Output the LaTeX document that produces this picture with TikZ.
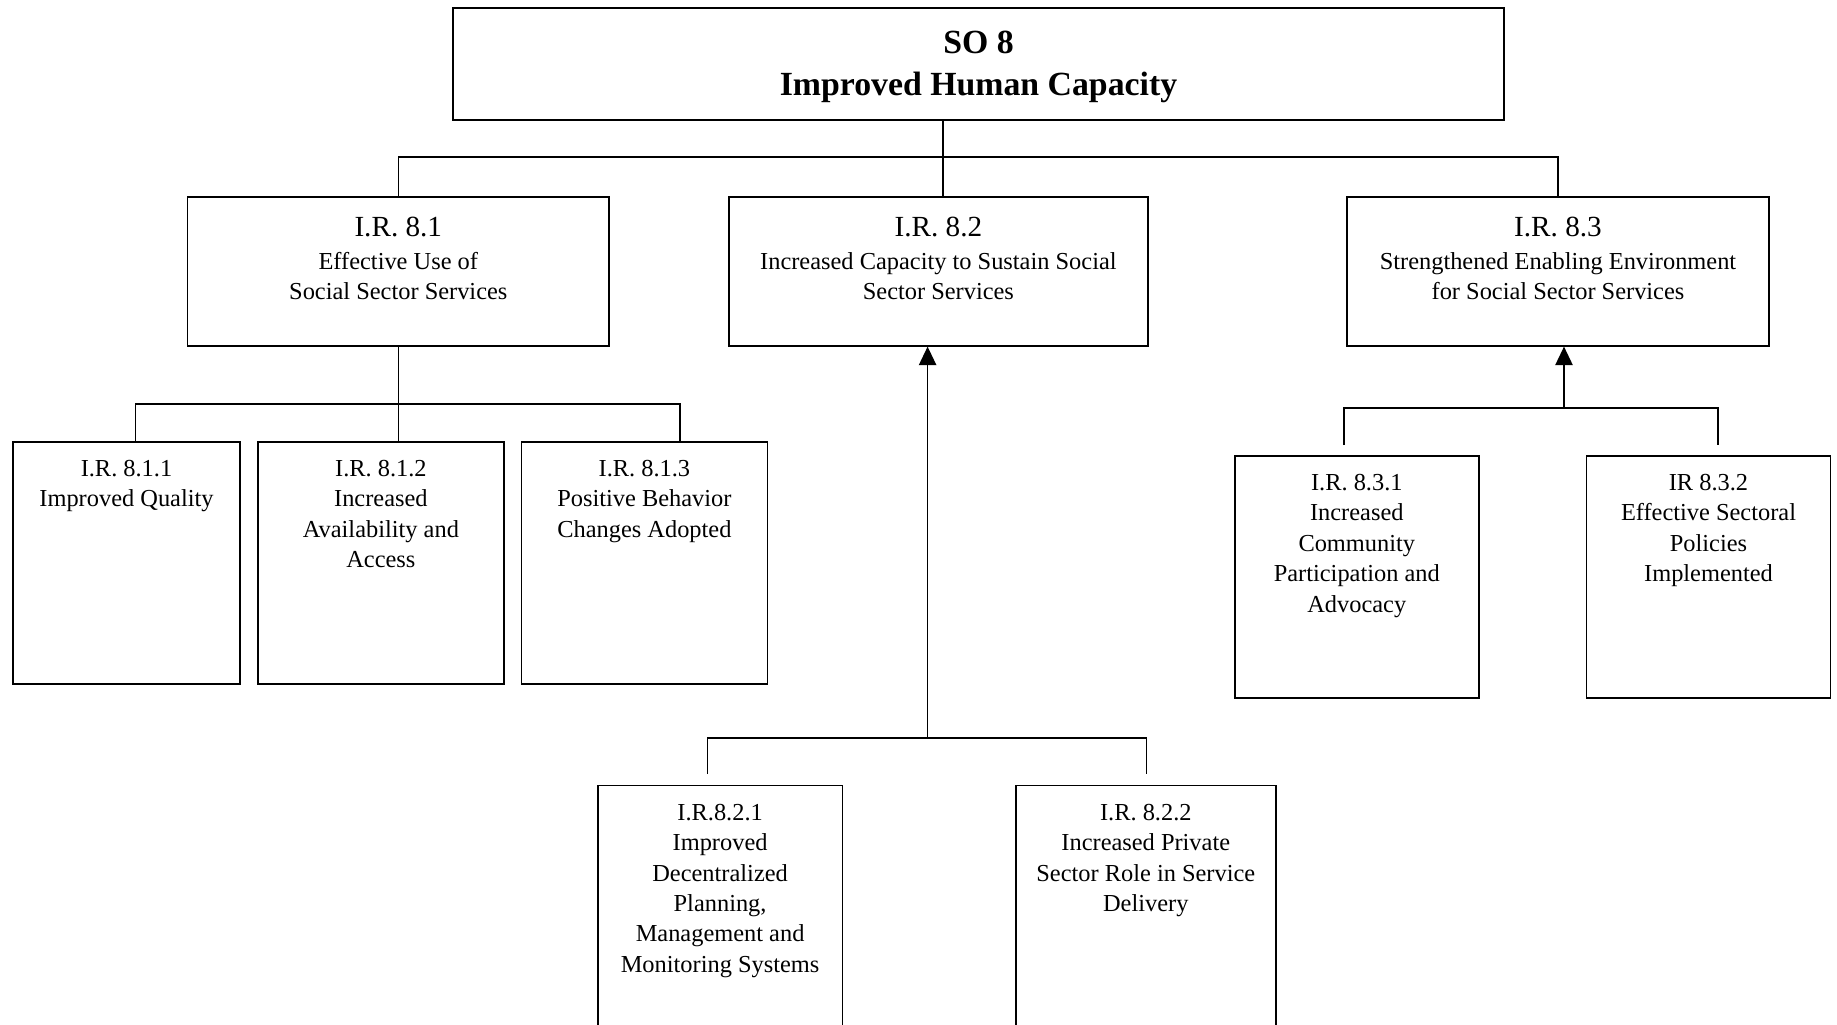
\documentclass[tikz,border=0pt]{standalone}
\usepackage{fontspec}
\setmainfont{Liberation Serif}
\usetikzlibrary{arrows.meta}

\begin{document}
\begin{tikzpicture}[x=0.5pt,y=-0.5pt,
  box/.style={draw,line width=0.9pt,inner sep=0pt},
  txt/.style={anchor=north,align=center,inner sep=0pt,yshift=-9.5pt,font=\fontsize{12.2}{15.2}\selectfont},
  link/.style={line width=0.75pt},
  up/.style={link,-{Triangle[length=9.3pt,width=8.7pt]}}]
\useasboundingbox (0,0) rectangle (1837,1024);
\clip (0,0) rectangle (1837,1024);

\node [box,minimum width=525.5pt,minimum height=56pt,
       label={[txt,yshift=-2.4pt,font=\bfseries\fontsize{16.9}{21}\selectfont]north:{SO 8\\Improved Human Capacity}}] (so8) at (978.5,64) {};

\node [box,minimum width=210.9pt,minimum height=74.5pt,
       label={[txt,yshift=-0.8pt]north:{{\fontsize{14.6}{16}\selectfont I.R. 8.1}\\[1.3pt]Effective Use of\\Social Sector Services}}] (ir81) at (398.3,271.2) {};
\node [box,minimum width=209.7pt,minimum height=74.5pt,
       label={[txt,yshift=-0.8pt]north:{{\fontsize{14.6}{16}\selectfont I.R. 8.2}\\[1.3pt]Increased Capacity to Sustain Social\\Sector Services}}] (ir82) at (938.4,271.2) {};
\node [box,minimum width=211pt,minimum height=74.5pt,
       label={[txt,yshift=-0.8pt]north:{{\fontsize{14.6}{16}\selectfont I.R. 8.3}\\[1.3pt]Strengthened Enabling Environment\\for Social Sector Services}}] (ir83) at (1558,271.2) {};

\node [box,minimum width=113.8pt,minimum height=121.3pt,
       label={[txt]north:{I.R. 8.1.1\\Improved Quality}}] (ir811) at (126.5,563) {};
\node [box,minimum width=122.9pt,minimum height=121.3pt,
       label={[txt]north:{I.R. 8.1.2\\Increased\\Availability and\\Access}}] (ir812) at (380.9,563) {};
\node [box,minimum width=123pt,minimum height=121.3pt,
       label={[txt]north:{I.R. 8.1.3\\Positive Behavior\\Changes Adopted}}] (ir813) at (644.4,563) {};

\node [box,minimum width=122.3pt,minimum height=127.3pt,
       label={[txt]north:{I.R.8.2.1\\Improved\\Decentralized\\Planning,\\Management and\\Monitoring Systems}}] (ir821) at (720.1,912.8) {};
\node [box,minimum width=130.2pt,minimum height=127.3pt,
       label={[txt]north:{I.R. 8.2.2\\Increased Private\\Sector Role in Service\\Delivery}}] (ir822) at (1145.8,912.8) {};

\node [box,minimum width=121.8pt,minimum height=121.2pt,
       label={[txt]north:{I.R. 8.3.1\\Increased\\Community\\Participation and\\Advocacy}}] (ir831) at (1356.8,576.9) {};
\node [box,minimum width=122pt,minimum height=121.2pt,
       label={[txt]north:{IR 8.3.2\\Effective Sectoral\\Policies\\Implemented}}] (ir832) at (1708.5,576.9) {};

\path ([xshift=2.3pt]ir82.north) ++(0,-39) coordinate (j0);
\draw [link] (so8.south -| j0) -- (j0 |- ir82.north);
\draw [link] (ir81.north) |- (j0) -| (ir83.north);

\coordinate (b1l) at (135.7,404);
\coordinate (b1r) at (680,404);
\draw [link] (ir81.south) -- (ir81.south |- ir812.north);
\draw [link] (b1l |- ir811.north) -- (b1l) -- (b1r) -- (b1r |- ir813.north);

\coordinate (b2) at (927.6,738);
\coordinate (b2l) at (707.6,738);
\coordinate (b2r) at (1146.4,738);
\draw [up] (b2) -- (b2 |- ir82.south);
\draw [link,shorten <=5.2pt,shorten >=5.2pt] (b2l |- ir821.north) -- (b2l) -- (b2r) -- (b2r |- ir822.north);

\coordinate (b3) at (1564,408);
\coordinate (b3l) at (1344,408);
\coordinate (b3r) at (1718,408);
\draw [up] (b3) -- (b3 |- ir83.south);
\draw [link,shorten <=4.9pt,shorten >=4.9pt] (b3l |- ir831.north) -- (b3l) -- (b3r) -- (b3r |- ir832.north);
\end{tikzpicture}
\end{document}
